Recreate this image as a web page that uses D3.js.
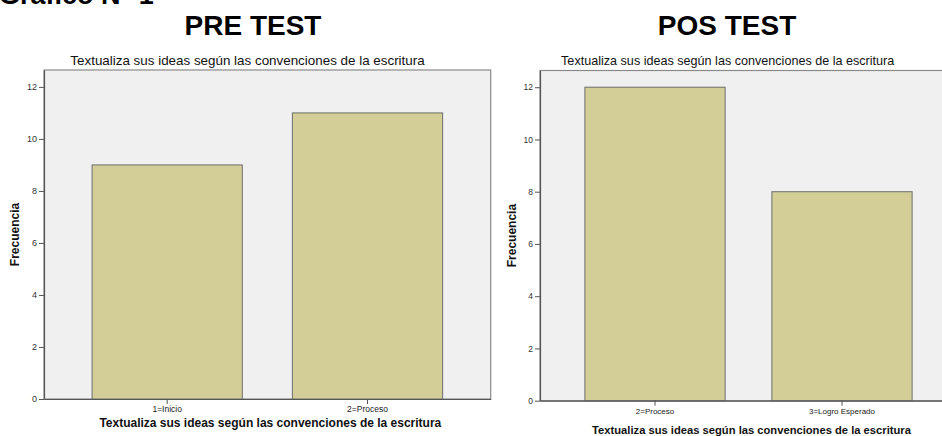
<!DOCTYPE html>
<html>
<head>
<meta charset="utf-8">
<script src="https://cdn.jsdelivr.net/npm/d3@7"></script>
<style>
  html, body { margin: 0; padding: 0; background: #ffffff; }
  svg { display: block; font-family: "Liberation Sans", Arial, sans-serif; }
</style>
</head>
<body>
<svg id="chart" width="942" height="436"></svg>
<script>
// ---- data ----
const figureTitle = "Gráfico N° 1";
const panelTitles = ["PRE TEST", "POS TEST"];
const chartTitle = "Textualiza sus ideas según las convenciones de la escritura";
const yLabel = "Frecuencia";
const preCategories = ["1=Inicio", "2=Proceso"];
const preValues = [9, 11];
const posCategories = ["2=Proceso", "3=Logro Esperado"];
const posValues = [12, 8];
const yTicks = [0, 2, 4, 6, 8, 10, 12];

// ---- layout ----
const svg = d3.select("#chart");
const barFill = "#d3ce97";
const barStroke = "#6e6e6e";
const plotBg = "#f0f0f0";

svg.append("text")
  .attr("x", -1).attr("y", 4)
  .attr("font-size", 27).attr("font-weight", "bold")
  .attr("fill", "#000")
  .text(figureTitle);

const panels = [
  { cats: preCategories, vals: preValues, title: panelTitles[0],
    left: 44, right: 490.7, top: 70, bottom: 399, yMax: 12.65,
    titleX: 253, chartTitleX: 247.5, chartTitleSize: 13.4,
    yLabelX: 19, tickSize: 9, catSize: 8.5, xTitleSize: 12, xTitleY: 426.5, pad: 2 },
  { cats: posCategories, vals: posValues, title: panelTitles[1],
    left: 540, right: 957, top: 70.5, bottom: 400.7, yMax: 12.64,
    titleX: 727, chartTitleX: 727.7, chartTitleSize: 12.6,
    yLabelX: 516, tickSize: 8.5, catSize: 8, xTitleSize: 11.2, xTitleY: 433.5, pad: 3 }
];

panels.forEach(p => {
  const g = svg.append("g");
  const x = d3.scaleBand().domain(p.cats).range([p.left, p.right])
    .paddingInner(0.25).paddingOuter(0.24);
  const y = d3.scaleLinear().domain([0, p.yMax]).range([p.bottom, p.top]);

  // panel title
  g.append("text")
    .attr("x", p.titleX).attr("y", 35)
    .attr("text-anchor", "middle")
    .attr("font-size", 28).attr("font-weight", "bold")
    .attr("fill", "#000")
    .text(p.title);

  // chart title
  g.append("text")
    .attr("x", p.chartTitleX).attr("y", 64.5)
    .attr("text-anchor", "middle")
    .attr("font-size", p.chartTitleSize)
    .attr("fill", "#111")
    .text(chartTitle);

  // plot background
  g.append("rect")
    .attr("x", p.left).attr("y", p.top)
    .attr("width", p.right - p.left).attr("height", p.bottom - p.top)
    .attr("fill", plotBg)
    .attr("stroke", "#8a8a8a").attr("stroke-width", 1.2);

  // bars
  g.selectAll("rect.bar").data(p.vals).enter().append("rect")
    .attr("class", "bar")
    .attr("x", (d, i) => x(p.cats[i]))
    .attr("y", d => y(d))
    .attr("width", x.bandwidth())
    .attr("height", d => y(0) - y(d))
    .attr("fill", barFill)
    .attr("stroke", barStroke).attr("stroke-width", 1);

  // y axis
  const yAxis = g.append("g")
    .attr("transform", `translate(${p.left},0)`)
    .call(d3.axisLeft(y).tickValues(yTicks).tickSize(5).tickPadding(2).tickSizeOuter(0));
  yAxis.select(".domain").attr("stroke", "#555").attr("stroke-width", 1.2);
  yAxis.selectAll(".tick line").attr("stroke", "#555");
  yAxis.selectAll(".tick text")
    .attr("font-size", p.tickSize).attr("fill", "#333")
    .attr("font-family", "'Liberation Sans', Arial, sans-serif");

  // x axis
  const xAxis = g.append("g")
    .attr("transform", `translate(0,${p.bottom})`)
    .call(d3.axisBottom(x).tickSize(5).tickSizeOuter(0).tickPadding(p.pad));
  xAxis.select(".domain").attr("stroke", "#555").attr("stroke-width", 1.2);
  xAxis.selectAll(".tick line").attr("stroke", "#555");
  xAxis.selectAll(".tick text")
    .attr("font-size", p.catSize).attr("fill", "#222")
    .attr("font-family", "'Liberation Sans', Arial, sans-serif");

  // x-axis title
  g.append("text")
    .attr("x", (p.left + p.right) / 2 + 3).attr("y", p.xTitleY)
    .attr("text-anchor", "middle")
    .attr("font-size", p.xTitleSize).attr("font-weight", "bold")
    .attr("fill", "#111")
    .text(chartTitle);

  // y-axis title
  g.append("text")
    .attr("transform", `translate(${p.yLabelX},${(p.top + p.bottom) / 2}) rotate(-90)`)
    .attr("text-anchor", "middle")
    .attr("font-size", 12).attr("font-weight", "bold")
    .attr("fill", "#111")
    .text(yLabel);
});
</script>
</body>
</html>
